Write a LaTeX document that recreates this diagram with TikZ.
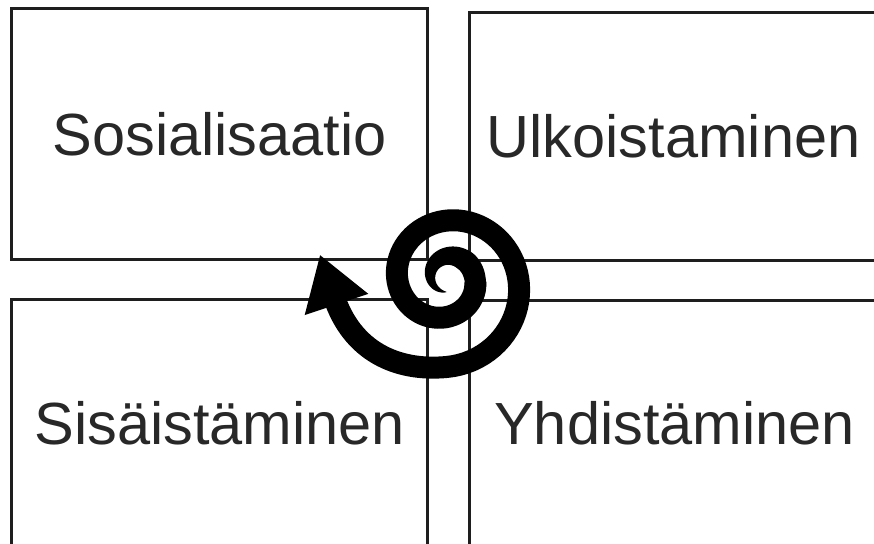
\documentclass[tikz,border=0pt]{standalone}
\usepackage{fontspec}
\setmainfont{Liberation Sans}
\definecolor{boxLine}{HTML}{1E1E1E}
\definecolor{labelGray}{HTML}{282828}

\begin{document}
\begin{tikzpicture}[
  x=0.5pt, y=-0.5pt,
  phase/.style={draw=boxLine, line width=1.5pt, text=labelGray, inner sep=0pt,
                font=\fontsize{29.75pt}{34pt}\selectfont},
  spiral/.style={line width=11pt, line join=round},
  declare function={
    spR(\t) = (\t<270) ? 15+12.5*(\t/270)^1.8 : 27.5+0.123*(\t-270);
    spY(\t) = (\t<270) ? 277 : 277+0.0158*(\t-270);
    spW(\t) = 22*min(1,\t/230)^0.85;
  },
]
  \useasboundingbox (0,0) rectangle (874,544);
  \clip (0,0) rectangle (874,544);

  \node[phase, minimum width=208pt, minimum height=125.75pt] (sosial) at (219.7,134.25) {Sosialisaatio};
  \node[phase, minimum width=204.2pt, minimum height=123.85pt] (ulkois) at (673.5,136.65) {Ulkoistaminen};
  \node[phase, minimum width=208pt, minimum height=123.7pt] (sisais) at (219.7,423.7) {Sisäistäminen};
  \node[phase, minimum width=205.2pt, minimum height=122.7pt] (yhdist) at (674.5,423.7) {Yhdistäminen};

  % tapered start of the spiral
  \fill plot[domain=2:300, samples=80, variable=\t]
      ({447-(spR(\t)+spW(\t)/2)*sin(\t)}, {spY(\t)+(spR(\t)+spW(\t)/2)*cos(\t)})
    -- plot[domain=300:2, samples=80, variable=\t]
      ({447-(spR(\t)-spW(\t)/2)*sin(\t)}, {spY(\t)+(spR(\t)-spW(\t)/2)*cos(\t)})
    -- cycle;
  % outer turns and arrow
  \draw[spiral] plot[domain=280:720, samples=100, variable=\t]
      ({447-spR(\t)*sin(\t)}, {spY(\t)+spR(\t)*cos(\t)})
    .. controls (397,371.8) and (351.8,351.5) .. (333.8,296.2);
  \fill (320.1,255.2) -- (304.7,315.1) -- (368.3,293.9) -- cycle;
\end{tikzpicture}
\end{document}
